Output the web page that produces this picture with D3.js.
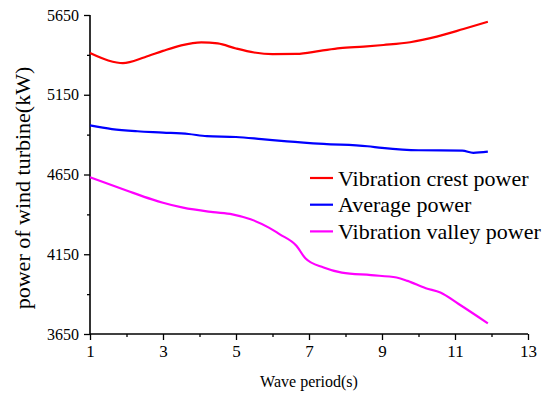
<!DOCTYPE html>
<html>
<head>
<meta charset="utf-8">
<script src="https://cdn.jsdelivr.net/npm/d3@7"></script>
<style>
  body { margin: 0; background: #fff; }
</style>
</head>
<body>
<svg id="chart" width="550" height="398"></svg>
<script>
// wave period (s) and power (kW)
const crestX = [1, 1.5, 1.9, 2.5, 3, 3.5, 4.05, 4.5, 5, 5.5, 6, 6.66, 7.3, 7.85, 8.5, 9.04, 9.77, 10.5, 11.23, 11.9];
const crestY = [5411, 5365, 5348, 5385, 5425, 5460, 5479, 5472, 5440, 5415, 5405, 5406, 5425, 5442, 5452, 5462, 5479, 5514, 5562, 5608];

const avgX = [1, 1.6, 2.3, 3, 3.7, 4.2, 5, 5.7, 6.4, 7.4, 8.6, 9, 10, 11.2, 11.5, 11.9];
const avgY = [4958, 4935, 4921, 4913, 4904, 4890, 4885, 4872, 4858, 4842, 4827, 4817, 4802, 4800, 4786, 4793];

const valleyX = [1, 2, 2.7, 3, 3.55, 4.37, 4.9, 5.4, 5.9, 6.2, 6.66, 6.9, 7.4, 7.9, 8.7, 9.4, 9.7, 10.2, 10.6, 11.1, 11.9];
const valleyY = [4633, 4550, 4494, 4473, 4442, 4414, 4400, 4369, 4317, 4275, 4202, 4125, 4067, 4035, 4019, 4004, 3983, 3937, 3910, 3838, 3717];

const seriesNames = ["Vibration crest power", "Average power", "Vibration valley power"];
const seriesColors = ["#ff0000", "#0000ff", "#ff00ff"];

const xMajor = [1, 3, 5, 7, 9, 11, 13];
const xMinor = [2, 4, 6, 8, 10, 12];
const yMajor = [3650, 4150, 4650, 5150, 5650];
const yMinor = [3900, 4400, 4900, 5400];

const serif = "'Liberation Serif', 'Times New Roman', Times, serif";
const svg = d3.select("#chart");
const plotLeft = 90, plotRight = 528, plotTop = 15, plotBottom = 334;

const x = d3.scaleLinear().domain([1, 13]).range([plotLeft, plotRight]);
const y = d3.scaleLinear().domain([3650, 5650]).range([plotBottom, plotTop]);

// axes
const xAxis = svg.append("g").attr("transform", `translate(0,${plotBottom})`)
  .call(d3.axisBottom(x).tickValues(xMajor).tickSize(6).tickPadding(5).tickFormat(d3.format("d")));
svg.append("g").attr("transform", `translate(0,${plotBottom})`)
  .call(d3.axisBottom(x).tickValues(xMinor).tickSize(3).tickFormat(""))
  .select(".domain").remove();

const yAxis = svg.append("g").attr("transform", `translate(${plotLeft},0)`)
  .call(d3.axisLeft(y).tickValues(yMajor).tickSize(6).tickPadding(5).tickFormat(d3.format("d")));
svg.append("g").attr("transform", `translate(${plotLeft},0)`)
  .call(d3.axisLeft(y).tickValues(yMinor).tickSize(3).tickFormat(""))
  .select(".domain").remove();

svg.selectAll(".domain").attr("stroke", "#000").attr("stroke-width", 1.6);
svg.selectAll(".tick line").attr("stroke", "#000").attr("stroke-width", 1.3);
xAxis.selectAll(".domain").attr("d", `M${plotLeft},0H${plotRight}`);
yAxis.selectAll(".domain").attr("d", `M0,${plotBottom}V${plotTop}`);
xAxis.attr("font-family", serif).attr("font-size", 17);
yAxis.attr("font-family", serif).attr("font-size", 16);
svg.selectAll(".tick text").attr("fill", "#000");

// series
const line = d3.line().x(d => x(d[0])).y(d => y(d[1])).curve(d3.curveMonotoneX);
const allSeries = [
  d3.zip(crestX, crestY),
  d3.zip(avgX, avgY),
  d3.zip(valleyX, valleyY)
];
svg.append("g").selectAll("path")
  .data(allSeries)
  .join("path")
  .attr("d", line)
  .attr("fill", "none")
  .attr("stroke", (d, i) => seriesColors[i])
  .attr("stroke-width", 2.2);

// legend
const legend = svg.append("g").selectAll("g")
  .data(seriesNames)
  .join("g")
  .attr("transform", (d, i) => `translate(310,${178 + i * 26.7})`);
legend.append("line")
  .attr("x1", 0).attr("x2", 23)
  .attr("stroke", (d, i) => seriesColors[i])
  .attr("stroke-width", 2.2);
legend.append("text")
  .attr("x", 28).attr("y", 7.5)
  .style("font-family", serif)
  .style("font-size", "22px")
  .text(d => d);

// axis titles
svg.append("text")
  .attr("x", 309).attr("y", 387)
  .attr("text-anchor", "middle")
  .style("font-family", serif)
  .style("font-size", "16px")
  .text("Wave period(s)");
svg.append("text")
  .attr("transform", "translate(30,188) rotate(-90)")
  .attr("text-anchor", "middle")
  .style("font-family", serif)
  .style("font-size", "22px")
  .text("power of wind turbine(kW)");
</script>
</body>
</html>
